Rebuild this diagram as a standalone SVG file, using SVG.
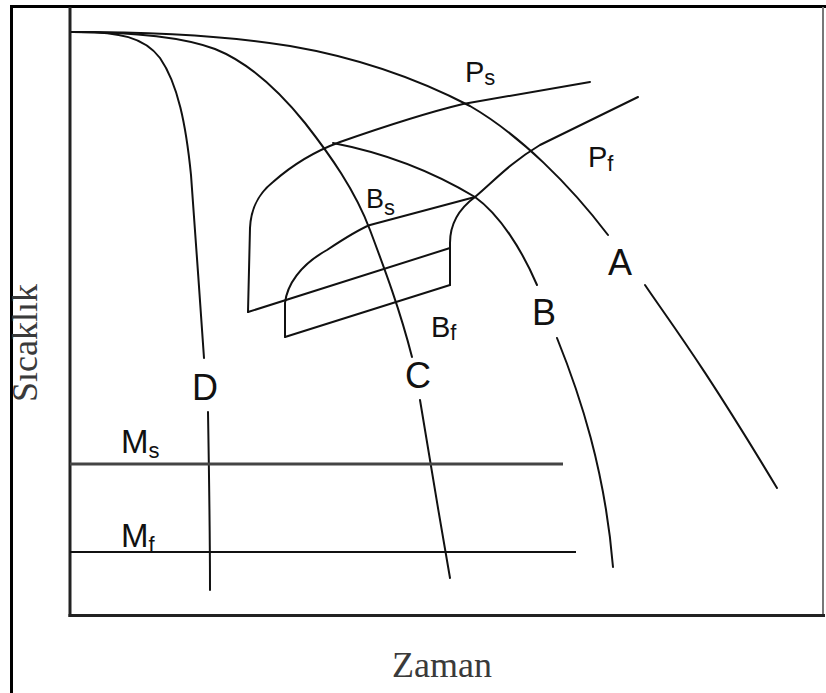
<svg xmlns="http://www.w3.org/2000/svg" width="826" height="693" viewBox="0 0 826 693">
<style>
.frame{stroke:#000;stroke-width:3;fill:none}
.axis{stroke:#222;stroke-width:3;fill:none}
.curve{stroke:#111;stroke-width:2;fill:none;stroke-linecap:round;stroke-linejoin:round}
.lbl{font-family:"Liberation Sans",Arial,sans-serif;fill:#111}
.big{font-size:36px;text-anchor:middle}
.sub{font-size:22px}
.ax{font-family:"Liberation Serif","Times New Roman",serif;font-size:36px;fill:#3a3a3a;text-anchor:middle}
</style>
<rect width="826" height="693" fill="#fff"/>
<g id="frame">
<line class="frame" x1="10" y1="6.5" x2="826" y2="6.5"/>
<line class="frame" x1="11.5" y1="5" x2="11.5" y2="693"/>
<line x1="823" y1="7" x2="823" y2="617" stroke="#777" stroke-width="2"/>
<line class="axis" x1="70" y1="7" x2="70" y2="617"/>
<line class="axis" x1="68.5" y1="615.5" x2="825" y2="615.5"/>
</g>
<g id="connectors">
<path id="curve-D" class="curve" d="M72,32 C120,31 145,38 160,58 C178,84 186,125 191,175 C195,230 200,300 204,358"/>
<path id="curve-D-low" class="curve" d="M208,412 C209,470 210,530 210,590"/>
<path id="curve-C" class="curve" d="M72,32 C130,32 180,36 215,49 C250,63 280,92 305,123 C330,155 355,190 370,230 C385,270 400,310 412,357"/>
<path id="curve-C-low" class="curve" d="M420,400 C428,450 440,520 450,578"/>
<path id="curve-A" class="curve" d="M72,32 C150,32 230,36 290,46 C360,58 420,80 470,106 C520,135 570,185 608,235"/>
<path id="curve-A-low" class="curve" d="M645,285 C670,322 700,360 777,488"/>
<path id="curve-B" class="curve" d="M333,143 C380,152 430,170 475,197 C500,215 522,250 537,285"/>
<path id="curve-B-low" class="curve" d="M557,338 C580,395 605,470 613,567"/>
<path id="curve-Ps" class="curve" d="M248,312 L250,228 C251,208 258,194 273,182 C290,167 310,153 340,142 C380,128 430,112 463,104 L590,82"/>
<path id="curve-Bs" class="curve" d="M285,337 L285,303 C287,285 300,265 327,250 C345,238 360,229 370,225 L475,197"/>
<path id="curve-Pf" class="curve" d="M450,285 L450,243 C450,222 460,208 475,197 C495,180 510,163 540,145 L638,97"/>
<line id="line-Bstart" class="curve" x1="248" y1="312" x2="450" y2="248"/>
<line id="line-Bfinish" class="curve" x1="285" y1="337" x2="450" y2="285"/>
<line id="line-Ms" x1="70" y1="464" x2="563" y2="464" stroke="#444" stroke-width="3"/>
<line id="line-Mf" x1="70" y1="552" x2="576" y2="552" stroke="#111" stroke-width="2"/>
</g>
<g id="label-A"><text class="lbl big" x="620" y="275">A</text></g>
<g id="label-B"><text class="lbl big" x="544" y="325">B</text></g>
<g id="label-C"><text class="lbl big" x="418" y="388">C</text></g>
<g id="label-D"><text class="lbl big" x="205" y="400">D</text></g>
<g id="label-Ps"><text class="lbl" x="465" y="82" font-size="29">P<tspan class="sub" dy="3">s</tspan></text></g>
<g id="label-Pf"><text class="lbl" x="588" y="167" font-size="29">P<tspan class="sub" dy="4">f</tspan></text></g>
<g id="label-Bs"><text class="lbl" x="366" y="208" font-size="27">B<tspan class="sub" dy="7">s</tspan></text></g>
<g id="label-Bf"><text class="lbl" x="431" y="337" font-size="29">B<tspan class="sub" dy="3">f</tspan></text></g>
<g id="label-Ms"><text class="lbl" x="121" y="453" font-size="33">M<tspan class="sub" dy="5">s</tspan></text></g>
<g id="label-Mf"><text class="lbl" x="121" y="547" font-size="33">M<tspan class="sub" dy="5">f</tspan></text></g>
<g id="axis-y"><text class="ax" transform="translate(37,343) rotate(-90)">Sıcaklık</text></g>
<g id="axis-x"><text class="ax" x="442" y="677">Zaman</text></g>
</svg>
